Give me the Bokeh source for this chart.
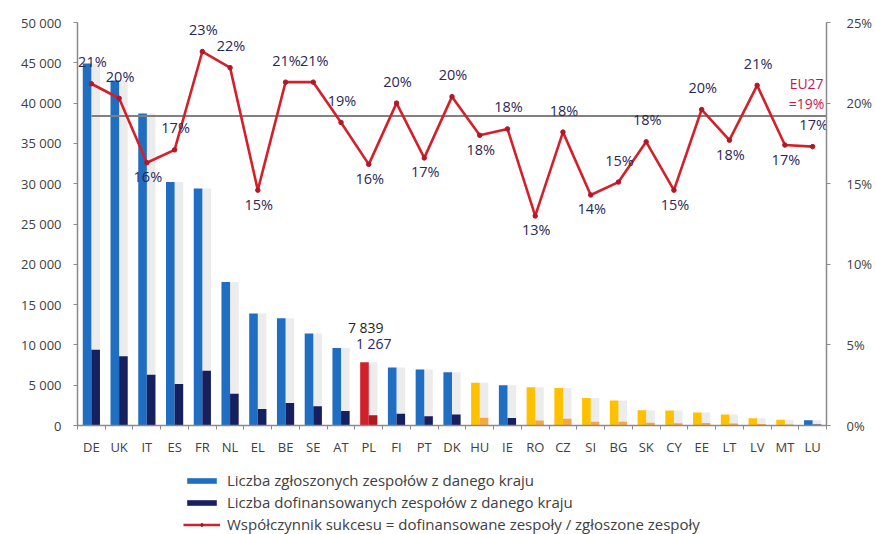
from bokeh.plotting import figure
from bokeh.layouts import column
from bokeh.models import (Range1d, LinearAxis, FixedTicker, Legend, LegendItem,
                          ColumnDataSource)
from bokeh.core.properties import value
from bokeh.embed import file_html
from bokeh.resources import INLINE

# ---------------- data ----------------
countries = ["DE", "UK", "IT", "ES", "FR", "NL", "EL", "BE", "SE", "AT", "PL", "FI", "PT", "DK",
             "HU", "IE", "RO", "CZ", "SI", "BG", "SK", "CY", "EE", "LT", "LV", "MT", "LU"]
submitted = [44900, 42800, 38700, 30200, 29400, 17800, 13900, 13300, 11400, 9600, 7839, 7200,
             6950, 6600, 5300, 5000, 4750, 4650, 3400, 3100, 1900, 1850, 1600, 1350, 900, 700, 650]
funded = [9400, 8600, 6300, 5150, 6800, 3950, 2050, 2800, 2400, 1800, 1267, 1450, 1150, 1350,
          950, 920, 620, 850, 480, 470, 330, 270, 310, 240, 190, 120, 110]
success = [0.212, 0.203, 0.163, 0.171, 0.232, 0.222, 0.146, 0.213, 0.213, 0.188, 0.162, 0.200,
           0.166, 0.204, 0.180, 0.184, 0.130, 0.182, 0.143, 0.151, 0.176, 0.146, 0.196, 0.177,
           0.211, 0.174, 0.173]
groups = (["old"] * 10 + ["pl"] + ["old"] * 3 + ["new", "old"] + ["new"] * 10 + ["old"])
eu27 = 0.192
eu27_label = ["EU27", "=19%"]
left_ticks = [0, 5000, 10000, 15000, 20000, 25000, 30000, 35000, 40000, 45000, 50000]
left_tick_labels = ["0", "5 000", "10 000", "15 000", "20 000", "25 000", "30 000", "35 000",
                    "40 000", "45 000", "50 000"]
right_ticks = [0, 0.05, 0.10, 0.15, 0.20, 0.25]
right_tick_labels = ["0%", "5%", "10%", "15%", "20%", "25%"]
label_side = ["a", "a", "b", "a", "a", "a", "b", "a", "a", "a", "b", "a", "b", "a",
              "b", "a", "b", "a", "b", "a", "a", "b", "a", "b", "a", "b", "a"]
legend_labels = ["Liczba zgłoszonych zespołów z danego kraju",
                 "Liczba dofinansowanych zespołów z danego kraju",
                 "Współczynnik sukcesu = dofinansowane zespoły / zgłoszone zespoły"]

# ---------------- styles ----------------
FONT = "Open Sans"
TXT = "#404040"
LBL = "#2B2756"
AX = "#8A8A8A"
LINE_RED = "#D4202A"
PT_RED = "#B0182A"
light_col = {"old": "#1F6EC1", "pl": "#D0202A", "new": "#FFC000"}
dark_col = {"old": "#17205F", "pl": "#B4161E", "new": "#F4A840"}
BW = 0.31

n = len(countries)
xc = [i + 0.5 for i in range(n)]
src = ColumnDataSource(dict(
    xl=[x - BW / 2 for x in xc], xr=[x + BW / 2 for x in xc], xc=xc,
    sub=submitted, fun=funded, pct=success,
    lc=[light_col[g] for g in groups], dc=[dark_col[g] for g in groups],
    ptxt=[f"{v:.0%}" for v in success],
    dy=[-22 if s == "a" else 14 for s in label_side],
))

p = figure(frame_width=749, frame_height=403, output_backend="svg", toolbar_location=None,
           x_range=Range1d(0, n), y_range=Range1d(0, 50000),
           min_border_left=77, min_border_right=49, min_border_top=22, min_border_bottom=45)
p.extra_y_ranges = {"pct": Range1d(0, 0.25)}
p.outline_line_color = None
p.grid.grid_line_color = None
p.background_fill_color = "white"

# shadows + bars
p.vbar(x="xr", top="sub", width=BW, bottom=0, source=src, fill_color="#DCDCDC",
       fill_alpha=0.55, line_color=None)
p.vbar(x="xl", top="sub", width=BW, bottom=0, source=src, fill_color="lc", line_color=None)
p.vbar(x="xr", top="fun", width=BW, bottom=0, source=src, fill_color="dc", line_color=None)

# EU27 average line
p.segment(x0=[xc[0]], x1=[n], y0=[eu27], y1=[eu27], y_range_name="pct",
          line_color="#808080", line_width=2.2)

# success rate line
p.line(x="xc", y="pct", source=src, y_range_name="pct", line_color=LINE_RED, line_width=2.6)
p.scatter(x="xc", y="pct", source=src, y_range_name="pct", size=4.5,
          fill_color=PT_RED, line_color=PT_RED)

# percentage labels
p.text(x="xc", y="pct", text="ptxt", source=src, y_range_name="pct", y_offset="dy",
       x_offset=1, text_align="center", text_baseline="middle",
       text_font=value(FONT), text_font_size="14.5px", text_color=LBL)

# EU27 label
p.text(x=[n - 0.5, n - 0.5], y=[eu27, eu27], text=eu27_label, y_range_name="pct",
       y_offset=[-32, -12], x_offset=[-6, -6], text_align="center", text_baseline="middle",
       text_font=value(FONT), text_font_size="14px", text_color="#C8184A")

# PL value labels
ipl = countries.index("PL")
p.text(x=[xc[ipl], xc[ipl]], y=[submitted[ipl], submitted[ipl]],
       text=[f"{submitted[ipl]:,}".replace(",", " "), f"{funded[ipl]:,}".replace(",", " ")],
       x_offset=[-3, 5], y_offset=[-35, -19], text_align="center", text_baseline="middle",
       text_font=value(FONT), text_font_size="14px", text_color=["#262626", "#2A2470"])

# axes
for ax in [p.xaxis[0], p.yaxis[0]]:
    ax.axis_line_color = AX
    ax.axis_line_width = 1.5
    ax.major_label_text_font = FONT
    ax.major_label_text_font_size = "13px"
    ax.major_label_text_color = TXT
    ax.minor_tick_line_color = None

p.xaxis.ticker = FixedTicker(ticks=xc, minor_ticks=list(range(n + 1)))
p.xaxis.major_label_overrides = {x: c for x, c in zip(xc, countries)}
p.xaxis.major_tick_line_color = None
p.xaxis.minor_tick_line_color = AX
p.xaxis.minor_tick_out = 4
p.xaxis.minor_tick_in = 0
p.xaxis.major_label_standoff = 6

p.yaxis.ticker = FixedTicker(ticks=left_ticks)
p.yaxis.major_label_overrides = dict(zip(left_ticks, left_tick_labels))
p.yaxis.major_tick_line_color = AX
p.yaxis.major_tick_out = 4
p.yaxis.major_tick_in = 0
p.yaxis.major_label_standoff = 12

ry = LinearAxis(y_range_name="pct", ticker=FixedTicker(ticks=right_ticks))
ry.major_label_overrides = dict(zip(right_ticks, right_tick_labels))
ry.axis_line_color = AX
ry.axis_line_width = 1.5
ry.major_tick_line_color = AX
ry.major_tick_out = 4
ry.major_tick_in = 0
ry.minor_tick_line_color = None
ry.major_label_standoff = 16
ry.major_label_text_font = FONT
ry.major_label_text_font_size = "13px"
ry.major_label_text_color = TXT
p.add_layout(ry, "right")

# ---------------- legend strip ----------------
lg = figure(width=875, height=64, output_backend="svg", toolbar_location=None,
            x_range=Range1d(0, 1), y_range=Range1d(0, 1), x_axis_type=None, y_axis_type=None,
            min_border=0)
lg.outline_line_color = None
lg.grid.grid_line_color = None
off = [-5, -4]
l1 = lg.vbar(x=off[:1], top=[1], width=0.1, fill_color=light_col["old"], line_color=None)
l2 = lg.vbar(x=off[:1], top=[1], width=0.1, fill_color=dark_col["old"], line_color=None)
l3 = lg.line(x=off, y=[0.5, 0.5], line_color=LINE_RED, line_width=2.6)
l4 = lg.scatter(x=off[:1], y=[0.5], size=4.5, fill_color=PT_RED, line_color=PT_RED)
for r in (l1, l2, l3, l4):
    r.visible = False

legend = Legend(items=[
    LegendItem(label=legend_labels[0], renderers=[l1]),
    LegendItem(label=legend_labels[1], renderers=[l2]),
    LegendItem(label=legend_labels[2], renderers=[l3, l4]),
], location=(106, 0), orientation="vertical", click_policy="none")
legend.glyph_width = 37
legend.glyph_height = 7
legend.label_height = 14
legend.spacing = 2
legend.label_standoff = 7
legend.padding = 0
legend.margin = 0
legend.border_line_color = None
legend.background_fill_alpha = 0
legend.label_text_font = FONT
legend.label_text_font_size = "15px"
legend.label_text_color = TXT
lg.add_layout(legend, "center")

layout = column(p, lg, spacing=0)
open("out.html", "w").write(file_html(layout, INLINE))
